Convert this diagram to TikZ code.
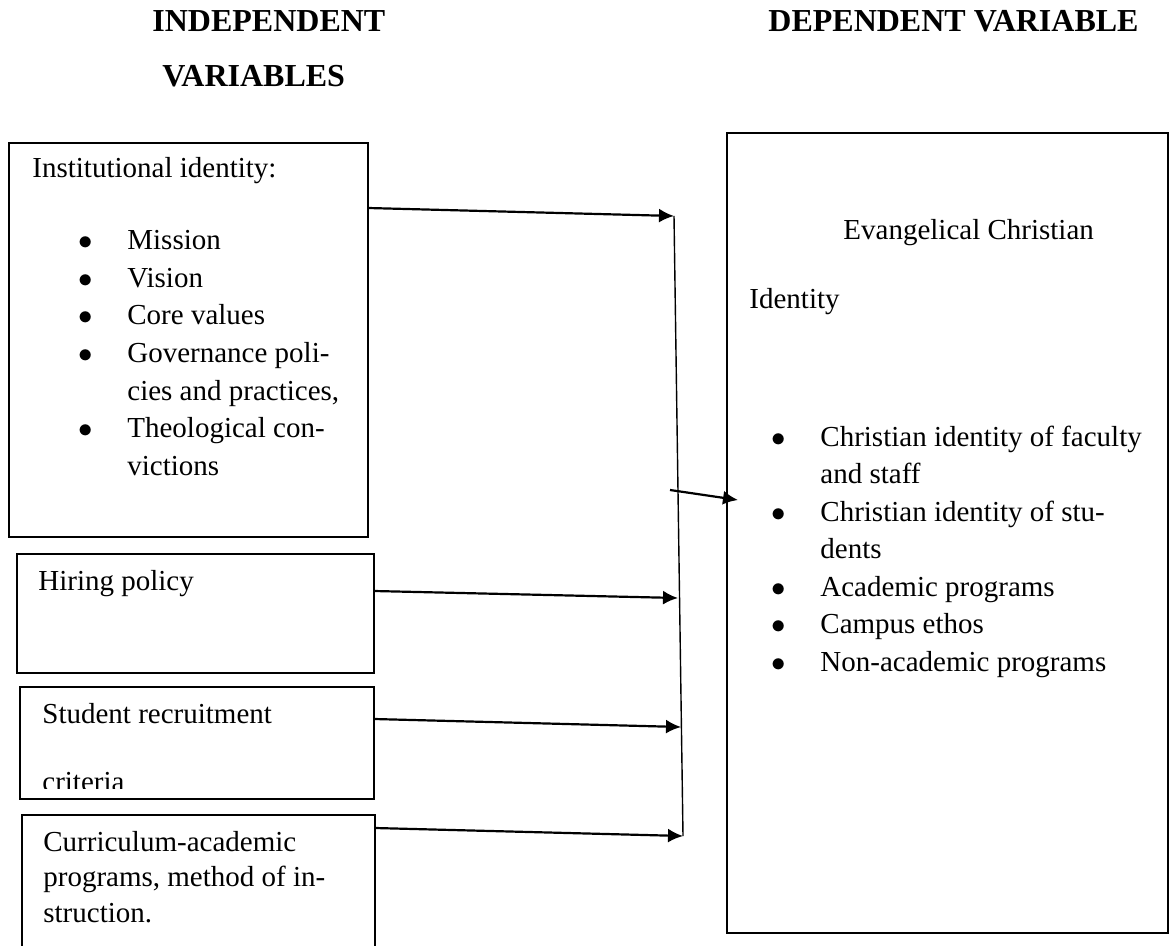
\documentclass[tikz,border=0pt]{standalone}
\usepackage{fontspec}
\setmainfont{Liberation Serif}
\usetikzlibrary{arrows.meta}

\newcommand{\bulletlist}[1]{\begin{tabular}[t]{@{}p{24.5pt}@{}l@{}}#1\end{tabular}}
\newcommand{\blt}{$\bullet$}

\begin{document}
\begin{tikzpicture}[x=0.5pt,y=-0.5pt,>={Latex[length=7.5pt,width=7pt]},
	box/.style={draw=black,line width=0.8pt,outer sep=0pt,inner sep=0pt,anchor=north west},
	txt/.style={anchor=base west,inner sep=0pt,font=\fontsize{14.5}{18.75}\selectfont},
	head/.style={anchor=base west,inner sep=0pt,font=\fontsize{16}{20}\selectfont\bfseries},
	link/.style={->,line width=1.1pt}]
	\useasboundingbox (0,0) rectangle (1171,946);
	\clip (0,0) rectangle (1171,946);

	\node [head] at (152,32) (indep_txt) {INDEPENDENT};
	\node [head] at (162,87) (indep_txt2) {VARIABLES};
	\node [head] at (768,32) (dep_head) {DEPENDENT VARIABLE};

	\node [box,minimum width=179.5pt,minimum height=197pt] at (9,143) (inst) {};
	\node [txt] at (32,178) (inst_txt) {Institutional identity:};
	\node [txt] at (78,250) (inst_list) {\bulletlist{%
		\blt & Mission\\
		\blt & Vision\\
		\blt & Core values\\
		\blt & Governance poli-\\
		& cies and practices,\\
		\blt & Theological con-\\
		& victions}};

	\node [box,minimum width=178.5pt,minimum height=59.5pt] at (17,554) (hire) {};
	\node [txt] at (38,590) (hire_txt) {Hiring policy};

	\node [box,minimum width=177pt,minimum height=56pt] at (20,687) (recruit) {};
	\node [txt] at (42,723) (recruit_txt) {Student recruitment};
	\begin{scope}
		\clip (20,687) rectangle (374,788);
		\node [txt] at (42,791) (recruit_txt2) {criteria};
	\end{scope}

	\node [box,minimum width=176.5pt,minimum height=75pt] at (22,815) (curr) {};
	\node [txt,font=\fontsize{14.5}{17.75}\selectfont] at (43,851) (curr_txt) {%
		\begin{tabular}[t]{@{}l@{}}
		Curriculum-academic\\
		programs, method of in-\\
		struction.
		\end{tabular}};

	\node [box,minimum width=220.5pt,minimum height=400pt] at (727,133) (dep) {};
	\node [txt] at (843,240) (dep_txt) {Evangelical Christian};
	\node [txt] at (749,308) (dep_txt2) {Identity};
	\node [txt] at (771,446) (dep_list) {\bulletlist{%
		\blt & Christian identity of faculty\\
		& and staff\\
		\blt & Christian identity of stu-\\
		& dents\\
		\blt & Academic programs\\
		\blt & Campus ethos\\
		\blt & Non-academic programs}};

	% collecting line
	\coordinate (bus_top) at (674,216);
	\coordinate (bus_hire) at (678,598);
	\coordinate (bus_recruit) at (681,727);
	\coordinate (bus_bot) at (683,836);
	\coordinate (bus_out) at (670,490);
	\draw[line width=0.7pt] (bus_top) -- (bus_bot);

	\draw[link] ([yshift=-32.5pt]inst.north east) -- (bus_top);
	\draw[link] ([yshift=-18.5pt]hire.north east) -- (bus_hire);
	\draw[link] ([yshift=-16pt]recruit.north east) -- (bus_recruit);
	\draw[link] ([yshift=-6.5pt]curr.north east) -- (bus_bot);

	\draw[link] (bus_out) -- ([xshift=5.5pt,yshift=16.5pt]dep.west);
\end{tikzpicture}
\end{document}
